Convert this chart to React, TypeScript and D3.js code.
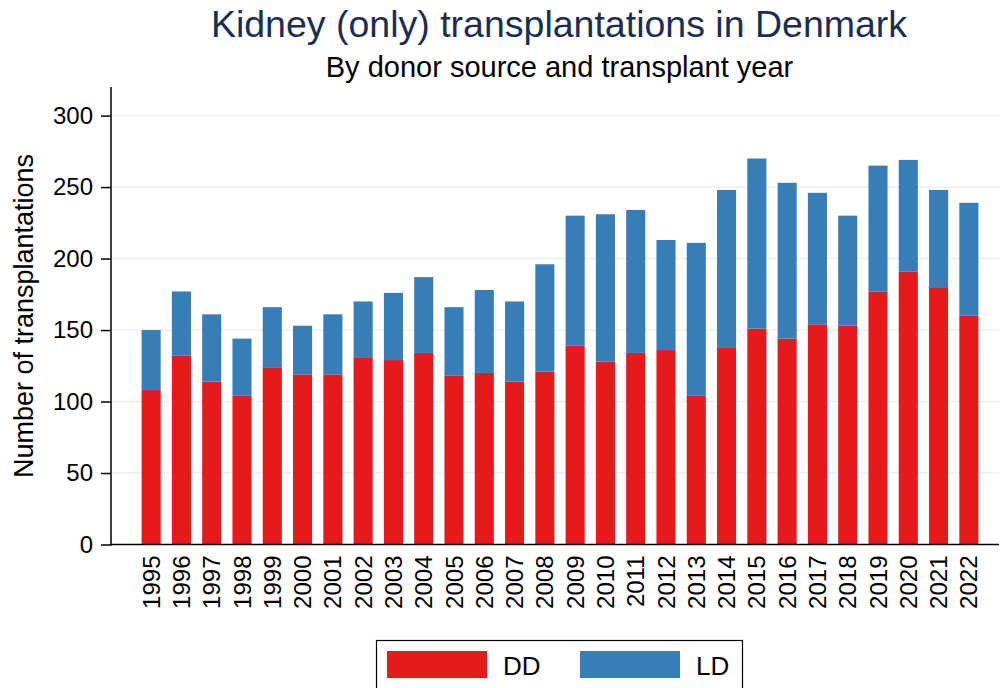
import React, { useEffect, useRef } from 'react';
import * as d3 from 'd3';

const years = [
  '1995', '1996', '1997', '1998', '1999', '2000', '2001', '2002', '2003', '2004',
  '2005', '2006', '2007', '2008', '2009', '2010', '2011', '2012', '2013', '2014',
  '2015', '2016', '2017', '2018', '2019', '2020', '2021', '2022',
];
// deceased donor
const dd = [108, 132, 114, 104, 124, 119, 119, 131, 129, 134, 118, 120, 114, 121, 139, 128, 134, 136, 104, 138, 151, 144, 154, 153, 177, 191, 180, 160];
// living donor
const ld = [42, 45, 47, 40, 42, 34, 42, 39, 47, 53, 48, 58, 56, 75, 91, 103, 100, 77, 107, 110, 119, 109, 92, 77, 88, 78, 68, 79];
const yTicks = [0, 50, 100, 150, 200, 250, 300];
const seriesNames = ['DD', 'LD'];
const seriesColors = ['#e41a1c', '#377eb8'];

const W = 1002;
const H = 688;
const FONT = '"Liberation Sans", Arial, sans-serif';

const App: React.FC = () => {
  const svgRef = useRef<SVGSVGElement>(null);

  useEffect(() => {
    if (!svgRef.current) return;
    const svg = d3.select(svgRef.current);
    svg.selectAll('*').remove();

    const left = 111, right = 999, top = 87, bottom = 544.5;

    const x = d3.scaleBand<string>()
      .domain(years)
      .range([136, 984])
      .paddingInner(0.37)
      .paddingOuter(0.185);

    const y = d3.scaleLinear().domain([0, 320]).range([bottom, top]);

    // gridlines
    svg.append('g')
      .selectAll('line')
      .data(yTicks.filter(t => t > 0))
      .join('line')
      .attr('x1', left)
      .attr('x2', right)
      .attr('y1', d => y(d))
      .attr('y2', d => y(d))
      .attr('stroke', '#eaf1f3')
      .attr('stroke-width', 1.6);

    // stacked bars
    const rows = years.map((yr, i) => ({ year: yr, DD: dd[i], LD: ld[i] }));
    const stacked = d3.stack<any>().keys(seriesNames)(rows);

    svg.append('g')
      .selectAll('g')
      .data(stacked)
      .join('g')
      .attr('fill', (_d, i) => seriesColors[i])
      .selectAll('rect')
      .data(d => d)
      .join('rect')
      .attr('x', (d: any) => x(d.data.year)!)
      .attr('width', x.bandwidth())
      .attr('y', d => y(d[1]))
      .attr('height', d => y(d[0]) - y(d[1]));

    // y axis
    const yAxis = svg.append('g')
      .attr('transform', `translate(${left},0)`)
      .call(d3.axisLeft(y).tickValues(yTicks).tickSize(10).tickPadding(8));
    yAxis.select('.domain').remove();
    yAxis.selectAll('line').attr('stroke', '#000').attr('stroke-width', 1.5);
    yAxis.selectAll('text')
      .attr('font-family', FONT)
      .attr('font-size', 24)
      .attr('fill', '#000');

    svg.append('line')
      .attr('x1', left).attr('x2', left)
      .attr('y1', top).attr('y2', bottom + 1)
      .attr('stroke', '#000').attr('stroke-width', 1.5);

    // x axis
    svg.append('line')
      .attr('x1', left).attr('x2', right)
      .attr('y1', bottom).attr('y2', bottom)
      .attr('stroke', '#000').attr('stroke-width', 1.6);

    svg.append('g')
      .selectAll('text')
      .data(years)
      .join('text')
      .attr('transform', d => `translate(${x(d)! + x.bandwidth() / 2 + 8.5},${bottom + 11}) rotate(-90)`)
      .attr('text-anchor', 'end')
      .attr('font-family', FONT)
      .attr('font-size', 24)
      .attr('fill', '#000')
      .text(d => d);

    // y title
    svg.append('text')
      .attr('transform', `translate(33,316) rotate(-90)`)
      .attr('text-anchor', 'middle')
      .attr('font-family', FONT)
      .attr('font-size', 27)
      .attr('fill', '#000')
      .text('Number of transplantations');

    // titles
    svg.append('text')
      .attr('x', 559)
      .attr('y', 37)
      .attr('text-anchor', 'middle')
      .attr('font-family', FONT)
      .attr('font-size', 37.5)
      .attr('fill', '#1c2d54')
      .text('Kidney (only) transplantations in Denmark');

    svg.append('text')
      .attr('x', 559.5)
      .attr('y', 77)
      .attr('text-anchor', 'middle')
      .attr('font-family', FONT)
      .attr('font-size', 29)
      .attr('fill', '#000')
      .text('By donor source and transplant year');

    // legend
    const lg = svg.append('g');
    lg.append('rect')
      .attr('x', 376.5).attr('y', 640.5)
      .attr('width', 366).attr('height', 60)
      .attr('fill', '#fff')
      .attr('stroke', '#000')
      .attr('stroke-width', 1.2);

    const items = lg.selectAll('g')
      .data(seriesNames)
      .join('g')
      .attr('transform', (_d, i) => `translate(${387 + i * 193},651)`);
    items.append('rect')
      .attr('width', 100)
      .attr('height', 27)
      .attr('fill', (_d, i) => seriesColors[i]);
    items.append('text')
      .attr('x', 116)
      .attr('y', 24)
      .attr('font-family', FONT)
      .attr('font-size', 26)
      .attr('fill', '#000')
      .text(d => d);
  }, []);

  return (
    <svg
      ref={svgRef}
      width={W}
      height={H}
      style={{ position: 'absolute', left: 0, top: 0, background: '#fff', display: 'block' }}
    />
  );
};

export default App;
